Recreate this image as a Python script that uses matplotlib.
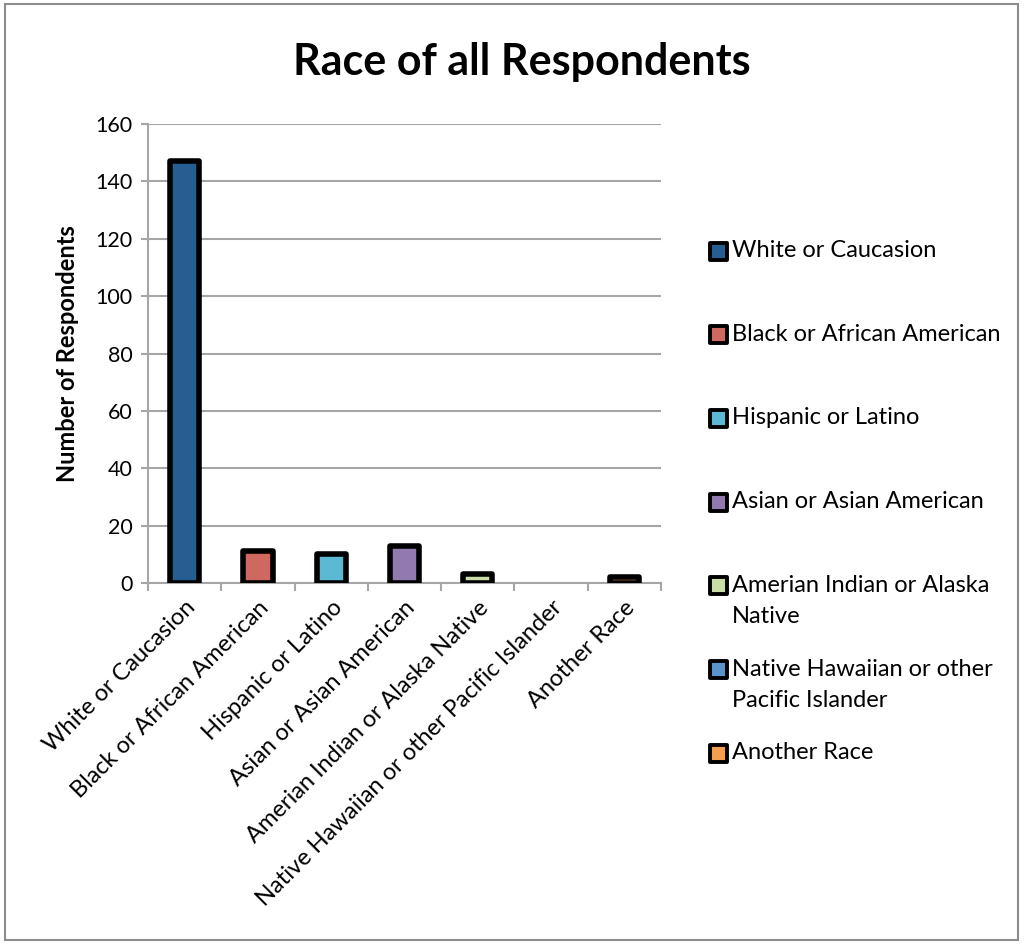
import matplotlib
matplotlib.use("Agg")
import matplotlib.pyplot as plt
from matplotlib.patches import Rectangle

plt.rcParams['font.family'] = ['Lato', 'DejaVu Sans']

races = ["White or Caucasion", "Black or African American", "Hispanic or Latino",
         "Asian or Asian American", "Amerian Indian or Alaska Native",
         "Native Hawaiian or other Pacific Islander", "Another Race"]
legend_labels = ["White or Caucasion", "Black or African American", "Hispanic or Latino",
                 "Asian or Asian American", "Amerian Indian or Alaska\nNative",
                 "Native Hawaiian or other\nPacific Islander", "Another Race"]
counts = [147, 11, 10, 13, 3, 0, 2]
colors = ["#275E92", "#CF6860", "#5BB9D3", "#9279B0", "#CADDA6", "#5A94CD", "#F59E4E"]

fig = plt.figure(figsize=(10.26, 9.44), dpi=100)
ax = fig.add_axes([0.1442, 0.3824, 0.5, 0.4862])

grid_c = "#A6A6A6"
x = range(len(races))
# empty categories get no outline
edge_w = [4 if c > 0 else 0 for c in counts]
ax.bar(x, counts, width=0.4, color=colors, edgecolor="black", linewidth=edge_w,
       joinstyle="round", zorder=3)

ax.set_xlim(-0.5, len(races) - 0.5)
ax.set_ylim(0, 160)
ax.set_yticks(range(0, 161, 20))
ax.yaxis.grid(True, color=grid_c, linewidth=1.5, zorder=0)
ax.set_axisbelow(True)

ax.set_xticks([i - 0.5 for i in range(len(races) + 1)], minor=False)
ax.set_xticklabels([])
ax.set_xticks(list(x), minor=True)
ax.set_xticklabels(races, minor=True, rotation=45, ha="right", rotation_mode="anchor",
                   fontsize=17)
ax.tick_params(axis="x", which="minor", length=0, pad=10)
ax.tick_params(axis="x", which="major", length=6, width=1.5, color=grid_c)
ax.tick_params(axis="y", length=5, width=1.5, color=grid_c, labelsize=15.5, pad=6)

for side in ["top", "right"]:
    ax.spines[side].set_visible(False)
for side in ["left", "bottom"]:
    ax.spines[side].set_color(grid_c)
    ax.spines[side].set_linewidth(1.5)

ax.set_ylabel("Number of Respondents", fontsize=17, fontweight="bold", labelpad=12)

fig.text(0.509, 0.934, "Race of all Respondents", ha="center", va="center",
         fontsize=31, fontweight="bold")

# legend drawn by hand so wrapped labels hang from the first line
y0 = 944 - 251
for i, (lab, col) in enumerate(zip(legend_labels, colors)):
    yc = (y0 - i * 83.7) / 944
    fig.patches.append(Rectangle((710 / 1026, yc - 8.5 / 944), 17 / 1026, 17 / 944,
                                 transform=fig.transFigure, facecolor=col,
                                 edgecolor="black", linewidth=2.8, joinstyle="round"))
    fig.text(732 / 1026, yc + 11 / 944, lab, ha="left", va="top", fontsize=17,
             linespacing=1.6)

# outer chart border
fig.patches.append(Rectangle((5 / 1026, 4 / 944), 1013 / 1026, 936 / 944,
                             transform=fig.transFigure, fill=False,
                             edgecolor="#8C8C8C", linewidth=1.5))

fig.savefig("out.png", dpi=100)
